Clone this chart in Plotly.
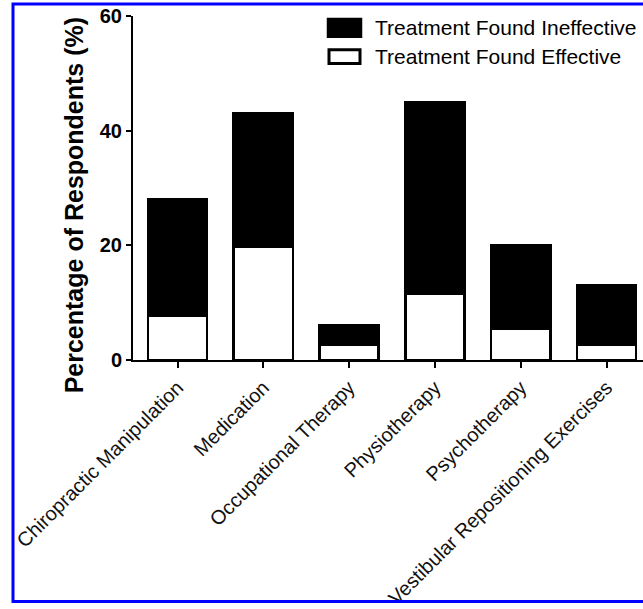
import plotly.graph_objects as go

categories = ["Chiropractic Manipulation", "Medication", "Occupational Therapy",
              "Physiotherapy", "Psychotherapy", "Vestibular Repositioning Exercises"]
effective = [7.7, 19.7, 2.6, 11.6, 5.5, 2.6]
ineffective = [20.3, 23.4, 3.4, 33.4, 14.6, 10.5]
y_ticks = [0, 20, 40, 60]

FONT = "Liberation Sans, Arial, sans-serif"
W, H = 643, 609
L, R, T, B = 133, 0, 16, 246
pw, ph = W - L - R, H - T - B

def px(x):
    return (x - L) / pw

def py(y):
    return (H - B - y) / ph

fig = go.Figure()
fig.add_trace(go.Bar(x=categories, y=effective, name="Treatment Found Effective",
                     width=0.69, marker=dict(color="white", line=dict(color="black", width=2.5)),
                     showlegend=False))
fig.add_trace(go.Bar(x=categories, y=ineffective, name="Treatment Found Ineffective",
                     width=0.69, marker=dict(color="black", line=dict(color="black", width=2.5)),
                     showlegend=False))

fig.update_layout(
    barmode="stack",
    width=W, height=H,
    margin=dict(l=L, r=R, t=T, b=B, pad=0),
    paper_bgcolor="white", plot_bgcolor="white",
    font=dict(family=FONT, color="black"),
    xaxis=dict(range=[-0.519, 5.425], showline=True, linecolor="black", linewidth=2,
               ticks="outside", ticklen=6, tickwidth=2, tickcolor="black",
               tickangle=-45, tickfont=dict(size=20, family=FONT, color="#111"),
               showgrid=False, zeroline=False),
    yaxis=dict(range=[0, 60], tickvals=y_ticks, showline=True, linecolor="black", linewidth=2,
               ticks="outside", ticklen=5, tickwidth=2, tickcolor="black",
               tickfont=dict(size=20, family=FONT, color="black", weight="bold"),
               showgrid=False, zeroline=False),
)

# y-axis title
fig.add_annotation(text="<b>Percentage of Respondents (%)</b>", textangle=-90,
                   xref="paper", yref="paper", x=px(74), y=py(207),
                   xanchor="center", yanchor="middle", showarrow=False,
                   font=dict(size=25, family=FONT, color="black"))

# custom legend
fig.add_shape(type="rect", xref="paper", yref="paper",
              x0=px(328), x1=px(361), y0=py(37), y1=py(19),
              fillcolor="black", line=dict(color="black", width=2.5))
fig.add_shape(type="rect", xref="paper", yref="paper",
              x0=px(329), x1=px(360), y0=py(64), y1=py(50),
              fillcolor="white", line=dict(color="black", width=3))
fig.add_annotation(text="Treatment Found Ineffective", xref="paper", yref="paper",
                   x=px(373), y=py(28), xanchor="left", yanchor="middle", showarrow=False,
                   font=dict(size=21, family=FONT, color="black"))
fig.add_annotation(text="Treatment Found Effective", xref="paper", yref="paper",
                   x=px(373), y=py(57), xanchor="left", yanchor="middle", showarrow=False,
                   font=dict(size=21, family=FONT, color="black"))

# blue frame
fig.add_shape(type="rect", xref="paper", yref="paper",
              x0=px(13), x1=px(660), y0=py(606.5), y1=py(4),
              fillcolor="rgba(0,0,0,0)", line=dict(color="#0000ff", width=3), layer="above")

fig.write_html("out.html", config={"displayModeBar": False},
               post_script="document.body.style.margin='0';document.body.style.overflow='hidden';")
